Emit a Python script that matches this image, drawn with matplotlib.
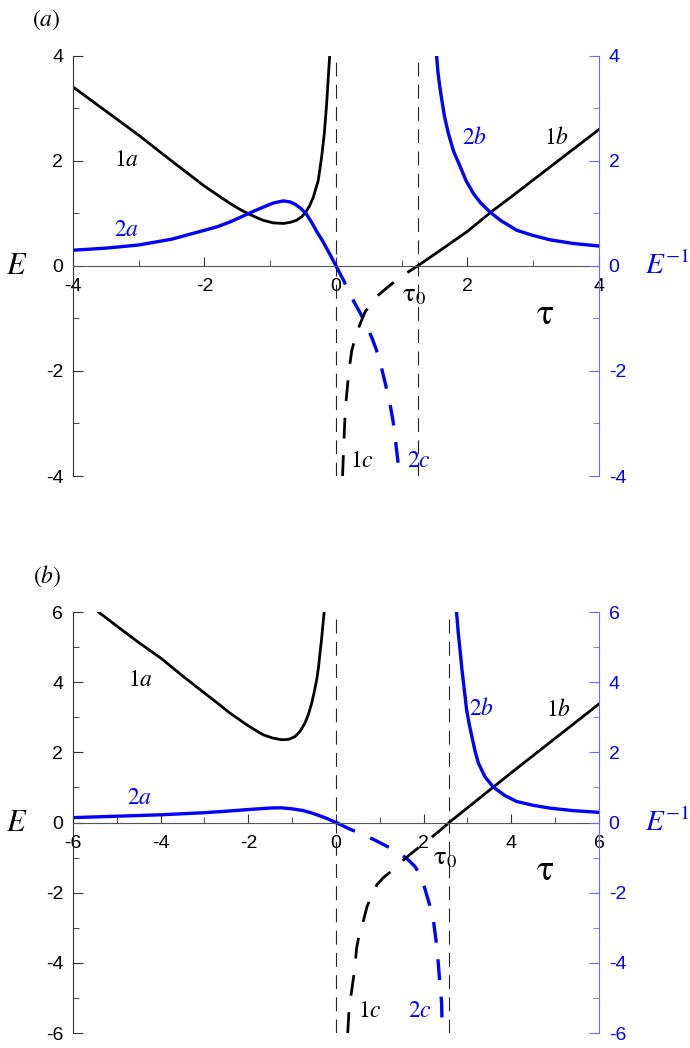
import matplotlib.pyplot as plt
import numpy as np

plt.rcParams['axes.unicode_minus'] = False
plt.rcParams['mathtext.fontset'] = 'stix'
plt.rcParams['font.family'] = ['Liberation Sans', 'DejaVu Sans']
plt.rcParams['lines.scale_dashes'] = False

BLUE = '#0000ff'
AXBLUE = '#6a6aff'

# ---- panel (a) data ----
tau0_a = 1.24
tau_1a_a = [-4.0, -3.5, -3.0, -2.5, -2.0, -1.8, -1.61, -1.45, -1.31, -1.11, -0.95, -0.80,
            -0.70, -0.60, -0.52, -0.456, -0.40, -0.345, -0.27, -0.218, -0.178, -0.142,
            -0.117, -0.096]
E_1a_a = [3.41, 2.95, 2.49, 2.0, 1.52, 1.35, 1.19, 1.07, 0.98, 0.87, 0.82, 0.81,
          0.83, 0.87, 0.94, 1.03, 1.15, 1.31, 1.63, 2.08, 2.52, 3.09,
          3.60, 4.0]
tau_2a_a = [-4.0, -3.5, -3.0, -2.5, -2.0, -1.8, -1.61, -1.45, -1.31, -1.11, -0.95, -0.80,
            -0.70, -0.62, -0.54, -0.456, -0.37, -0.29, -0.21, -0.14, -0.07, 0.0]
E_2a_a = [0.30, 0.34, 0.40, 0.51, 0.68, 0.75, 0.84, 0.93, 1.01, 1.12, 1.20, 1.24,
          1.22, 1.175, 1.10, 1.0, 0.83, 0.65, 0.49, 0.33, 0.17, 0.0]
tau_2c_a = [0.0, 0.11, 0.15, 0.22, 0.29, 0.37, 0.44, 0.54, 0.61, 0.67, 0.745, 0.82,
            0.87, 0.91, 0.94, 0.96]
E_2c_a = [0.0, -0.26, -0.37, -0.55, -0.72, -0.90, -1.07, -1.35, -1.58, -1.83, -2.21,
          -2.62, -2.97, -3.38, -3.70, -4.0]
tau_1c_a = [0.10, 0.118, 0.137, 0.155, 0.178, 0.205, 0.24, 0.29, 0.34, 0.44, 0.54,
            0.64, 0.78, 0.92, 1.08, 1.24]
E_1c_a = [-4.0, -3.4, -2.88, -2.55, -2.24, -1.92, -1.61, -1.38, -1.19, -0.88, -0.70,
          -0.56, -0.41, -0.27, -0.13, 0.0]
tau_1b_a = [1.24, 1.6, 2.0, 2.35, 2.7, 3.0, 3.5, 4.0]
E_1b_a = [0.0, 0.31, 0.66, 1.02, 1.35, 1.64, 2.12, 2.6]
tau_2b_a = [1.53, 1.55, 1.58, 1.61, 1.65, 1.71, 1.79, 1.89, 1.98, 2.09, 2.2, 2.35,
            2.5, 2.75, 3.0, 3.25, 3.6, 4.0]
E_2b_a = [4.0, 3.7, 3.4, 3.16, 2.85, 2.52, 2.18, 1.89, 1.62, 1.38, 1.2, 1.02,
          0.87, 0.68, 0.58, 0.50, 0.43, 0.38]

# ---- panel (b) data ----
tau0_b = 2.58
tau_1a_b = [-5.42, -5.0, -4.5, -4.0, -3.5, -3.0, -2.7, -2.42, -2.04, -1.85, -1.66,
            -1.45, -1.24, -1.08, -0.935, -0.82, -0.71, -0.63, -0.555, -0.50, -0.44,
            -0.40, -0.365, -0.335, -0.31, -0.27]
E_1a_b = [6.0, 5.6, 5.13, 4.69, 4.18, 3.69, 3.40, 3.12, 2.79, 2.64, 2.50,
          2.41, 2.36, 2.37, 2.45, 2.60, 2.83, 3.08, 3.40, 3.70, 4.07,
          4.42, 4.83, 5.15, 5.49, 6.0]
tau_2a_b = [-6.0, -5.0, -4.0, -3.0, -2.42, -2.0, -1.66, -1.45, -1.25, -1.0, -0.745,
            -0.55, -0.365, -0.18, 0.0]
E_2a_b = [0.14, 0.18, 0.22, 0.28, 0.33, 0.37, 0.40, 0.415, 0.42, 0.39, 0.34,
          0.27, 0.19, 0.10, 0.0]
tau_2c_b = [0.0, 0.32, 0.456, 0.87, 1.32, 1.61, 1.8, 1.96, 2.08, 2.16, 2.22, 2.28,
            2.33, 2.37, 2.41, 2.42, 2.43]
E_2c_b = [0.0, -0.19, -0.26, -0.49, -0.78, -1.02, -1.25, -1.59, -2.11, -2.45, -2.77,
          -3.34, -3.96, -4.58, -5.15, -5.77, -6.0]
tau_1c_b = [0.267, 0.30, 0.36, 0.43, 0.47, 0.52, 0.59, 0.71, 0.82, 0.93, 1.08, 1.25,
            1.61, 1.99, 2.37, 2.58]
E_1c_b = [-6.0, -5.29, -4.77, -4.15, -3.58, -3.25, -2.96, -2.39, -2.05, -1.78, -1.57,
          -1.40, -0.99, -0.61, -0.23, 0.0]
tau_1b_b = [2.58, 3.0, 3.59, 4.0, 5.0, 6.0]
E_1b_b = [0.0, 0.42, 1.01, 1.42, 2.4, 3.38]
tau_2b_b = [2.75, 2.79, 2.83, 2.87, 2.91, 2.98, 3.04, 3.10, 3.17, 3.25, 3.4, 3.59,
            3.85, 4.12, 4.5, 4.88, 5.4, 6.0]
E_2b_b = [6.0, 5.4, 4.92, 4.4, 3.97, 3.21, 2.8, 2.45, 2.05, 1.69, 1.3, 1.01,
          0.77, 0.60, 0.49, 0.41, 0.34, 0.29]


def setup_panel(ax, lim, tau0):
    ax.set_xlim(-lim, lim)
    ax.set_ylim(-lim, lim)
    ax.patch.set_visible(False)
    ax.spines['top'].set_visible(False)
    ax.spines['right'].set_visible(False)
    ax.spines['bottom'].set_position(('data', 0))
    ax.spines['bottom'].set_color('#555555')
    ax.spines['left'].set_color('#333333')
    major = np.arange(-lim, lim + 1, 2)
    minor = np.arange(-lim + 1, lim, 2)
    ax.set_xticks(major)
    ax.set_xticks(minor, minor=True)
    ax.set_yticks(major)
    ax.set_yticks(minor, minor=True)
    ax.tick_params(which='both', direction='in', labelsize=14, color='#333333')
    ax.tick_params(axis='x', which='major', length=6.5, pad=9)
    ax.tick_params(axis='x', which='minor', length=4)
    ax.tick_params(axis='y', which='major', length=7, pad=7)
    ax.tick_params(axis='y', which='minor', length=4)

    ax2 = ax.twinx()
    ax2.set_ylim(-lim, lim)
    for s in ['top', 'bottom', 'left']:
        ax2.spines[s].set_visible(False)
    ax2.spines['right'].set_color(AXBLUE)
    ax2.set_yticks(major)
    ax2.set_yticks(minor, minor=True)
    ax2.tick_params(which='both', direction='in', color=AXBLUE, labelcolor=BLUE,
                    labelsize=14)
    ax2.tick_params(which='major', length=7.5, pad=7)
    ax2.tick_params(which='minor', length=4)

    ax.axvline(0, color='#222222', lw=0.8, dashes=(10, 6))
    ax.axvline(tau0, color='#222222', lw=0.8, dashes=(10, 6))


fig = plt.figure(figsize=(6.9, 10.48), dpi=100)
ax_a = fig.add_axes([0.1058, 0.5458, 0.7623, 0.4008])
ax_b = fig.add_axes([0.1058, 0.0143, 0.7623, 0.4017])

setup_panel(ax_a, 4, tau0_a)
setup_panel(ax_b, 6, tau0_b)

dash = (15, 12)
for ax, d in [(ax_a, (tau_1a_a, E_1a_a, tau_2a_a, E_2a_a, tau_2c_a, E_2c_a,
                      tau_1c_a, E_1c_a, tau_1b_a, E_1b_a, tau_2b_a, E_2b_a)),
              (ax_b, (tau_1a_b, E_1a_b, tau_2a_b, E_2a_b, tau_2c_b, E_2c_b,
                      tau_1c_b, E_1c_b, tau_1b_b, E_1b_b, tau_2b_b, E_2b_b))]:
    ax.plot(d[0], d[1], color='k', lw=2.0)
    ax.plot(d[2], d[3], color=BLUE, lw=2.4)
    ax.plot(d[4], d[5], color=BLUE, lw=2.4, dashes=dash)
    ax.plot(d[6], d[7], color='k', lw=2.0, dashes=dash)
    ax.plot(d[8], d[9], color='k', lw=2.0)
    ax.plot(d[10], d[11], color=BLUE, lw=2.4)

LAB = 17
# labels panel (a)
ax_a.text(-4.40, 4.68, r'$(a)$', fontsize=17, ha='center', va='center')
ax_a.text(-3.18, 2.01, r'$1a$', fontsize=LAB, ha='center', va='center')
ax_a.text(-3.19, 0.68, r'$2a$', fontsize=LAB, ha='center', va='center', color=BLUE)
ax_a.text(2.11, 2.43, r'$2b$', fontsize=LAB, ha='center', va='center', color=BLUE)
ax_a.text(3.35, 2.43, r'$1b$', fontsize=LAB, ha='center', va='center')
ax_a.text(0.395, -3.72, r'$1c$', fontsize=LAB, ha='center', va='center')
ax_a.text(1.26, -3.72, r'$2c$', fontsize=LAB, ha='center', va='center', color=BLUE)
ax_a.text(tau0_a - 0.05, -0.55, r'$\mathrm{\tau}_0$', fontsize=19, ha='center', va='center')
ax_a.text(3.18, -0.92, r'$\mathrm{\tau}$', fontsize=26, ha='center', va='center')
ax_a.text(-4.85, 0.0, r'$E$', fontsize=22, ha='center', va='center')
ax_a.text(4.70, 0.0, r'$E^{-1}$', fontsize=21, ha='left', va='center', color=BLUE)

# labels panel (b)
ax_b.text(-6.59, 7.03, r'$(b)$', fontsize=17, ha='center', va='center')
ax_b.text(-4.47, 4.07, r'$1a$', fontsize=LAB, ha='center', va='center')
ax_b.text(-4.49, 0.70, r'$2a$', fontsize=LAB, ha='center', va='center', color=BLUE)
ax_b.text(3.33, 3.24, r'$2b$', fontsize=LAB, ha='center', va='center', color=BLUE)
ax_b.text(5.07, 3.21, r'$1b$', fontsize=LAB, ha='center', va='center')
ax_b.text(0.78, -5.37, r'$1c$', fontsize=LAB, ha='center', va='center')
ax_b.text(1.92, -5.37, r'$2c$', fontsize=LAB, ha='center', va='center', color=BLUE)
ax_b.text(tau0_b - 0.1, -1.0, r'$\mathrm{\tau}_0$', fontsize=19, ha='center', va='center')
ax_b.text(4.77, -1.38, r'$\mathrm{\tau}$', fontsize=26, ha='center', va='center')
ax_b.text(-7.28, 0.0, r'$E$', fontsize=22, ha='center', va='center')
ax_b.text(7.05, 0.0, r'$E^{-1}$', fontsize=21, ha='left', va='center', color=BLUE)

fig.savefig('out.png', dpi=100)
